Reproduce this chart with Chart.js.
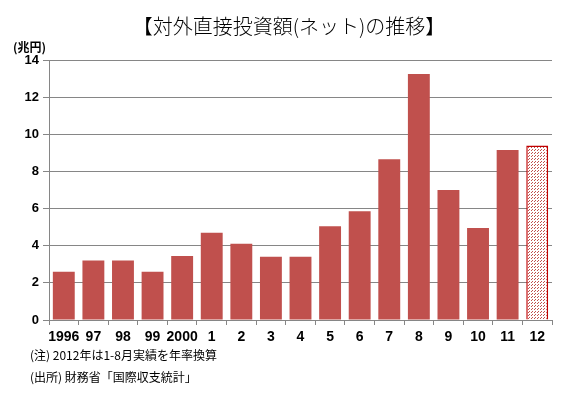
<!DOCTYPE html>
<html>
<head>
<meta charset="utf-8">
<script src="https://cdn.jsdelivr.net/npm/chart.js@4"></script>
<style>
  html, body { margin: 0; padding: 0; background: #fff; }
  #wrap { width: 578px; height: 397px; position: relative; }
</style>
</head>
<body>
<div id="wrap"><canvas id="chart" width="578" height="397"></canvas></div>
<script>
// 対外直接投資額(ネット), 兆円
const years = ['1996', '97', '98', '99', '2000', '1', '2', '3', '4', '5', '6', '7', '8', '9', '10', '11', '12'];
const values = [2.6, 3.2, 3.2, 2.6, 3.45, 4.7, 4.1, 3.4, 3.4, 5.05, 5.85, 8.65, 13.25, 7.0, 4.95, 9.15, 9.4];
const yTicks = [0, 2, 4, 6, 8, 10, 12, 14];

const titleText = '【対外直接投資額(ネット)の推移】';
const unitText = '(兆円)';
const notes = ['(注) 2012年は1-8月実績を年率換算', '(出所) 財務省「国際収支統計」'];

const barRed = '#C0504D';

// dotted fill for the estimated 2012 bar
function dotPattern() {
    const c = document.createElement('canvas');
    c.width = 3; c.height = 3;
    const g = c.getContext('2d');
    g.fillStyle = '#ffffff';
    g.fillRect(0, 0, 3, 3);
    g.fillStyle = '#C0504D';
    g.fillRect(0, 0, 1, 1);
    g.fillRect(1, 2, 1, 1);
    return g.createPattern(c, 'repeat');
}
const pattern = dotPattern();

const textPlugin = {
    id: 'texts',
    afterDraw(chart) {
        const ctx = chart.ctx;
        ctx.save();
        ctx.fillStyle = '#000';
        ctx.textBaseline = 'middle';
        ctx.textAlign = 'center';
        ctx.font = '300 20px "Noto Sans CJK JP"';
        ctx.fillText(titleText, 289, 26);
        ctx.textAlign = 'left';
        ctx.font = 'bold 12px "Noto Sans CJK JP"';
        ctx.fillText(unitText, 13, 47);
        ctx.font = '12px "Noto Sans CJK JP"';
        ctx.fillText(notes[0], 30, 355);
        ctx.fillText(notes[1], 30, 377);
        ctx.restore();
    }
};

new Chart(document.getElementById('chart'), {
    type: 'bar',
    data: {
        labels: years,
        datasets: [{
            data: values,
            backgroundColor: values.map((_, i) => i === values.length - 1 ? pattern : barRed),
            borderColor: values.map((_, i) => i === values.length - 1 ? '#C00000' : barRed),
            borderWidth: values.map((_, i) => i === values.length - 1 ? 1.5 : 0),
            categoryPercentage: 1,
            barPercentage: 0.74
        }]
    },
    options: {
        responsive: false,
        animation: false,
        layout: { padding: { left: 8, right: 26, top: 60, bottom: 47 } },
        plugins: {
            legend: { display: false },
            tooltip: { enabled: false }
        },
        scales: {
            x: {
                afterFit(scale) { scale.height = 30; },
                grid: {
                    offset: true,
                    drawOnChartArea: false,
                    drawTicks: true,
                    tickLength: 5,
                    color: '#868686'
                },
                border: { color: '#868686' },
                ticks: {
                    color: '#000',
                    font: { family: 'Liberation Sans', size: 14, weight: 'bold' },
                    maxRotation: 0,
                    autoSkip: false,
                    padding: 4
                }
            },
            y: {
                min: 0,
                max: 14,
                afterFit(scale) { scale.width = 41; },
                afterBuildTicks(scale) { scale.ticks = yTicks.map(v => ({ value: v })); },
                grid: { color: '#868686', tickLength: 6 },
                border: { color: '#868686' },
                ticks: {
                    color: '#000',
                    font: { family: 'Liberation Sans', size: 13, weight: 'bold' },
                    padding: 4
                }
            }
        }
    },
    plugins: [textPlugin]
});
</script>
</body>
</html>
